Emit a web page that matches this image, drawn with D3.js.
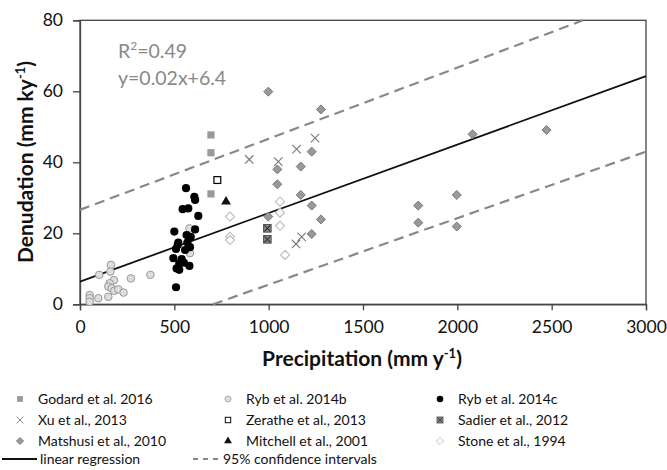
<!DOCTYPE html>
<html>
<head>
<meta charset="utf-8">
<script src="https://cdn.jsdelivr.net/npm/d3@7"></script>
<style>
  body { margin: 0; background: #fff; }
  text { font-family: Lato, "Open Sans", sans-serif; }
</style>
</head>
<body>
<div class="chart"></div>
<script>
var xTicks = [0, 500, 1000, 1500, 2000, 2500, 3000];
var yTicks = [0, 20, 40, 60, 80];

// [precipitation, denudation]
var godard2016 = [[694, 47.7], [694, 42.7], [694, 31.1]];
var ryb2014b = [[164, 11.1], [102, 8.3], [161, 9.2], [270, 7.3], [373, 8.3], [180, 6.8], [157, 5.9],
	[150, 5.0], [168, 4.5], [182, 3.8], [203, 4.2], [231, 3.3], [150, 2.1], [97, 1.7], [51, 2.6],
	[51, 1.7], [51, 0.7], [580, 21.4], [583, 14.4]];
var ryb2014c = [[562, 32.7], [606, 30.3], [610, 29.4], [544, 26.8], [574, 27.0], [627, 24.9], [500, 20.5],
	[610, 21.1], [565, 19.5], [587, 19.0], [521, 17.4], [569, 17.4], [583, 16.1], [509, 15.6], [557, 15.3],
	[518, 16.7], [495, 13.0], [539, 12.7], [526, 11.5], [551, 11.7], [580, 10.8], [512, 10.1], [526, 9.7], [509, 4.8]];
var xu2013 = [[897, 40.8], [1246, 46.8], [1148, 43.7], [1051, 40.2], [1175, 19.0], [1145, 17.0]];
var zerathe2013 = [[728, 35.0]];
var sadier2012 = [[993, 21.4], [993, 18.3]];
var matsushi2010 = [[998, 59.9], [1277, 54.9], [1228, 43.0], [1046, 38.0], [1170, 38.8], [1046, 33.8],
	[1170, 30.8], [1228, 27.8], [998, 24.7], [1277, 23.9], [1228, 19.8], [2081, 47.9], [2473, 49.1],
	[1793, 27.8], [1997, 30.8], [1793, 23.0], [1997, 21.9]];
var mitchell2001 = [[774, 28.9]];
var stone1994 = [[795, 24.7], [795, 19.0], [795, 18.1], [1060, 28.9], [1060, 25.8], [1060, 22.1], [1087, 13.9]];

var regression = [[0, 6.4], [3000, 64.3]];
var ciUpper = [[0, 26.6], [2666, 80]];
var ciLower = [[705, 0], [3000, 43]];

var svg = d3.select(".chart")
	.append("svg")
	.attr("width", 667)
	.attr("height", 470)

var x = d3.scaleLinear().domain([0, 3000]).range([80, 646]);
var y = d3.scaleLinear().domain([0, 80]).range([304.3, 20.3]);

// frame
svg.append("rect")
	.attr("x", x(0))
	.attr("y", y(80))
	.attr("width", x(3000) - x(0))
	.attr("height", y(0) - y(80))
	.style("fill", "none")
	.style("stroke", "#444")
	.style("stroke-width", 1.3)

var xAxis = svg.append("g")
	.attr("transform", "translate(0," + y(0) + ")")
	.call(d3.axisBottom(x).tickValues(xTicks).tickSize(6).tickPadding(10).tickFormat(d3.format("d")))
xAxis.select(".domain").style("stroke", "#444").style("stroke-width", 1.3)
xAxis.selectAll("line").style("stroke", "#444").style("stroke-width", 1.3)
xAxis.selectAll("text").style("font-size", "17.5px").style("fill", "#111")

var yAxis = svg.append("g")
	.attr("transform", "translate(" + x(0) + ",0)")
	.call(d3.axisLeft(y).tickValues(yTicks).tickSize(7).tickPadding(10))
yAxis.select(".domain").style("stroke", "#444").style("stroke-width", 1.3)
yAxis.selectAll("line").style("stroke", "#444").style("stroke-width", 1.3)
yAxis.selectAll("text").style("font-size", "17.5px").style("fill", "#111")

// axis titles
var xt = svg.append("text")
	.attr("x", 362)
	.attr("y", 366)
	.attr("text-anchor", "middle")
	.style("font-size", "21px")
	.style("font-weight", "bold")
	.style("fill", "#111")
xt.append("tspan").text("Precipitation (mm y")
xt.append("tspan").attr("dy", -8).style("font-size", "13px").text("-1")
xt.append("tspan").attr("dy", 8).text(")")

var yt = svg.append("text")
	.attr("transform", "translate(33,162) rotate(-90)")
	.attr("text-anchor", "middle")
	.style("font-size", "21px")
	.style("font-weight", "bold")
	.style("fill", "#111")
yt.append("tspan").text("Denudation (mm ky")
yt.append("tspan").attr("dy", -8).style("font-size", "13px").text("-1")
yt.append("tspan").attr("dy", 8).text(")")

// regression text
var r2 = svg.append("text")
	.attr("x", 118)
	.attr("y", 58)
	.style("font-size", "19.5px")
	.style("fill", "#888")
r2.append("tspan").text("R")
r2.append("tspan").attr("dy", -8).style("font-size", "12px").text("2")
r2.append("tspan").attr("dy", 8).text("=0.49")
svg.append("text")
	.attr("x", 118)
	.attr("y", 85)
	.style("font-size", "19.5px")
	.style("fill", "#888")
	.text("y=0.02x+6.4")

// lines
var line = d3.line().x(function(d) { return x(d[0]); }).y(function(d) { return y(d[1]); });
svg.append("path").attr("d", line(ciUpper))
	.style("fill", "none").style("stroke", "#888").style("stroke-width", 2.2).style("stroke-dasharray", "10,6")
svg.append("path").attr("d", line(ciLower))
	.style("fill", "none").style("stroke", "#888").style("stroke-width", 2.2).style("stroke-dasharray", "10,6")
svg.append("path").attr("d", line(regression))
	.style("fill", "none").style("stroke", "#111").style("stroke-width", 1.8)

// marker drawing
function drawMarker(g, type) {
	if (type == "godard") {
		g.append("rect").attr("x", -3.6).attr("y", -3.6).attr("width", 7.2).attr("height", 7.2).style("fill", "#999")
	} else if (type == "ryb14b") {
		g.append("circle").attr("r", 3.8).style("fill", "#ddd").style("stroke", "#999").style("stroke-width", 1)
	} else if (type == "ryb14c") {
		g.append("circle").attr("r", 4.1).style("fill", "#000")
	} else if (type == "xu") {
		g.append("path").attr("d", "M-4.2,-4.2L4.2,4.2M-4.2,4.2L4.2,-4.2").style("stroke", "#777").style("stroke-width", 1.1)
	} else if (type == "zerathe") {
		g.append("rect").attr("x", -3.4).attr("y", -3.4).attr("width", 6.8).attr("height", 6.8)
			.style("fill", "#fff").style("stroke", "#000").style("stroke-width", 1.2)
	} else if (type == "sadier") {
		g.append("rect").attr("x", -3.8).attr("y", -3.8).attr("width", 7.6).attr("height", 7.6)
			.style("fill", "#888").style("stroke", "#555").style("stroke-width", 1)
		g.append("path").attr("d", "M-3,-3L3,3M-3,3L3,-3").style("stroke", "#333").style("stroke-width", 1.1)
	} else if (type == "matsushi") {
		g.append("path").attr("d", "M0,-4.5L4.5,0L0,4.5L-4.5,0Z").style("fill", "#999").style("stroke", "#777").style("stroke-width", 1)
	} else if (type == "mitchell") {
		g.append("path").attr("d", d3.symbol().type(d3.symbolTriangle).size(42)()).style("fill", "#111")
	} else if (type == "stone") {
		g.append("path").attr("d", "M0,-4.5L4.5,0L0,4.5L-4.5,0Z").style("fill", "#fff").style("stroke", "#bbb").style("stroke-width", 1.1)
	}
}

var seriesData = [
	{"name": "Stone et al., 1994", "type": "stone", "data": stone1994},
	{"name": "Ryb et al. 2014b", "type": "ryb14b", "data": ryb2014b},
	{"name": "Matshusi et al., 2010", "type": "matsushi", "data": matsushi2010},
	{"name": "Xu et al., 2013", "type": "xu", "data": xu2013},
	{"name": "Godard et al. 2016", "type": "godard", "data": godard2016},
	{"name": "Sadier et al., 2012", "type": "sadier", "data": sadier2012},
	{"name": "Zerathe et al., 2013", "type": "zerathe", "data": zerathe2013},
	{"name": "Mitchell et al., 2001", "type": "mitchell", "data": mitchell2001},
	{"name": "Ryb et al. 2014c", "type": "ryb14c", "data": ryb2014c}
];

seriesData.forEach(function(s) {
	svg.append("g").selectAll("g")
		.data(s.data)
		.enter()
		.append("g")
		.attr("transform", function(d) { return "translate(" + x(d[0]) + "," + y(d[1]) + ")"; })
		.each(function() { drawMarker(d3.select(this), s.type); })
})

// legend
var legendData = [
	{"name": "Godard et al. 2016", "type": "godard"},
	{"name": "Ryb et al. 2014b", "type": "ryb14b"},
	{"name": "Ryb et al. 2014c", "type": "ryb14c"},
	{"name": "Xu et al., 2013", "type": "xu"},
	{"name": "Zerathe et al., 2013", "type": "zerathe"},
	{"name": "Sadier et al., 2012", "type": "sadier"},
	{"name": "Matshusi et al., 2010", "type": "matsushi"},
	{"name": "Mitchell et al., 2001", "type": "mitchell"},
	{"name": "Stone et al., 1994", "type": "stone"}
];
var colX = [20, 228, 440];
var rowY = [399, 420, 441];

var legend = svg.append("g").attr("class", "legend")
legend.selectAll("g")
	.data(legendData)
	.enter()
	.append("g")
	.each(function(d, i) {
		var g = d3.select(this);
		var mx = colX[i % 3], my = rowY[Math.floor(i / 3)];
		var m = g.append("g").attr("transform", "translate(" + mx + "," + my + ") scale(0.8)");
		drawMarker(m, d.type);
		g.append("text")
			.attr("x", mx + 18)
			.attr("y", my + 5)
			.style("font-size", "14px")
			.style("fill", "#111")
			.text(d.name)
	})

legend.append("line").attr("x1", 2).attr("x2", 37).attr("y1", 459).attr("y2", 459)
	.style("stroke", "#111").style("stroke-width", 1.8)
legend.append("text").attr("x", 40).attr("y", 464).style("font-size", "14px").style("fill", "#111").text("linear regression")
legend.append("line").attr("x1", 193).attr("x2", 221).attr("y1", 459).attr("y2", 459)
	.style("stroke", "#888").style("stroke-width", 1.8).style("stroke-dasharray", "5,5")
legend.append("text").attr("x", 223).attr("y", 464).style("font-size", "14px").style("fill", "#111").text("95% confidence intervals")
</script>
</body>
</html>
